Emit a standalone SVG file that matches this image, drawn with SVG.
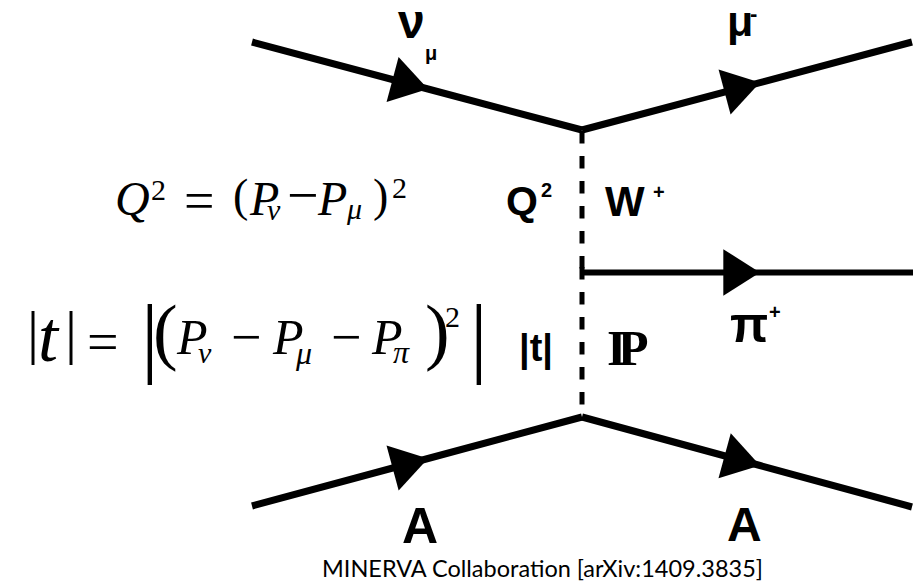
<svg xmlns="http://www.w3.org/2000/svg" width="923" height="582" viewBox="0 0 923 582">
<style>
.lbl{font-family:"Liberation Sans",Arial,sans-serif;font-weight:bold;fill:#000}
.math{font-family:"Liberation Serif","Times New Roman",serif;fill:#000}
.it{font-style:italic}
.cap{font-family:Lato,"Open Sans",sans-serif;fill:#000}
.f{fill:none;stroke:#000;stroke-width:7;marker-mid:url(#arr)}
.dash{fill:none;stroke:#000;stroke-width:5;stroke-dasharray:12.5 12.5}
</style>
<defs>
<marker id="arr" markerUnits="userSpaceOnUse" orient="auto" markerWidth="40" markerHeight="50" viewBox="-34 -22 36 44" refX="0" refY="0">
<polygon points="0,0 -33,-21 -33,21" fill="#000"/>
</marker>
</defs>
<rect width="923" height="582" fill="#fff"/>
<g id="connectors">
<path class="f" d="M252,42 L428,89 L582,130"/>
<path class="f" d="M582,130 L760,82.6 L912,42"/>
<path class="f" style="stroke-width:6" d="M582,272.5 L760,272.5 L913,272.5"/>
<path class="f" d="M252,506 L428,458.5 L582,417"/>
<path class="f" d="M582,417 L760,465.5 L912,507"/>
<path class="dash" d="M582,131 L582,272.5"/>
<path class="dash" d="M582,267 L582,417"/>
</g>
<g id="nu">
<text class="lbl"><tspan x="398" y="38" font-size="48">ν</tspan><tspan x="425" y="60" font-size="20">μ</tspan></text>
</g>
<g id="muon">
<text class="lbl"><tspan x="727" y="36" font-size="43">μ</tspan><tspan x="750" y="21" font-size="22">-</tspan></text>
</g>
<g id="q2label">
<text class="lbl"><tspan x="506" y="215" font-size="41">Q</tspan><tspan x="541" y="197" font-size="20">2</tspan></text>
</g>
<g id="wboson">
<text class="lbl"><tspan x="605" y="216" font-size="42">W</tspan><tspan x="653" y="199" font-size="20">+</tspan></text>
</g>
<g id="pion">
<text class="lbl"><tspan x="730" y="342" font-size="50">π</tspan><tspan x="769" y="319" font-size="20">+</tspan></text>
</g>
<g id="tlabel">
<text class="lbl" x="519" y="361" font-size="38">|t|</text>
</g>
<g id="pomeron">
<text class="math" font-weight="bold" font-size="50"><tspan x="607" y="365">I</tspan><tspan x="618" y="365">P</tspan></text>
</g>
<g id="nucleusIn">
<text class="lbl" x="402" y="543" font-size="50">A</text>
</g>
<g id="nucleusOut">
<text class="lbl" x="727" y="541" font-size="48">A</text>
</g>
<g id="eqQ2">
<text class="math"><tspan class="it" x="115" y="215" font-size="48">Q</tspan><tspan x="151" y="200" font-size="30">2</tspan><tspan x="184" y="219" font-size="54">=</tspan><tspan x="233" y="211" font-size="46">(</tspan><tspan class="it" x="250" y="215" font-size="48">P</tspan><tspan class="it" x="267" y="220" font-size="30">ν</tspan><tspan x="287" y="214" font-size="56">−</tspan><tspan class="it" x="318" y="215" font-size="48">P</tspan><tspan class="it" x="347" y="219" font-size="30">μ</tspan><tspan x="373" y="211" font-size="46">)</tspan><tspan x="392" y="198" font-size="30">2</tspan></text>
</g>
<g id="eqT">
<text class="math"><tspan x="27" y="352" font-size="60">|</tspan><tspan class="it" x="38" y="361" font-size="72">t</tspan><tspan x="65" y="352" font-size="60">|</tspan><tspan x="87" y="361" font-size="56">=</tspan><tspan x="141" y="366" font-size="88">|</tspan><tspan x="153" y="356" font-size="74">(</tspan><tspan class="it" x="177" y="354" font-size="50">P</tspan><tspan class="it" x="198" y="363" font-size="30">ν</tspan><tspan x="231" y="355" font-size="54">−</tspan><tspan class="it" x="273" y="354" font-size="50">P</tspan><tspan class="it" x="296" y="364" font-size="32">μ</tspan><tspan x="331" y="355" font-size="54">−</tspan><tspan class="it" x="372" y="354" font-size="50">P</tspan><tspan class="it" x="393" y="363" font-size="32">π</tspan><tspan x="425" y="356" font-size="74">)</tspan><tspan x="445" y="327" font-size="30">2</tspan><tspan x="470" y="366" font-size="88">|</tspan></text>
</g>
<g id="caption">
<text class="cap" x="322" y="577" font-size="23" textLength="441" lengthAdjust="spacingAndGlyphs">MINERVA Collaboration [arXiv:1409.3835]</text>
</g>
</svg>
